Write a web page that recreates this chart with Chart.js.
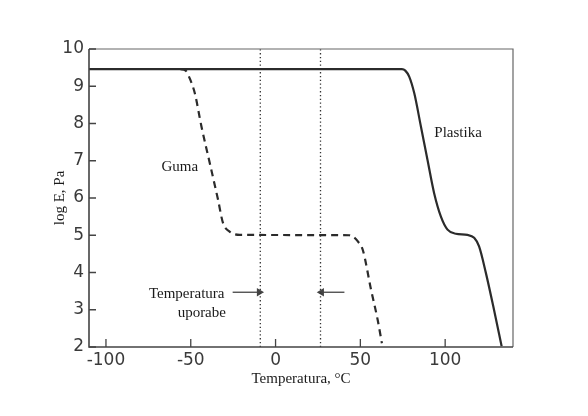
<!DOCTYPE html>
<html>
<head>
<meta charset="utf-8">
<script src="https://cdn.jsdelivr.net/npm/chart.js@4/dist/chart.umd.min.js"></script>
<style>
  html, body { margin: 0; padding: 0; background: #fff; }
  #wrap { width: 588px; height: 416px; }
</style>
</head>
<body>
<div id="wrap"><canvas id="myChart"></canvas></div>
<script>
// curves (temperature in C, log E in Pa)
const plastikaT = [-110, 74.5, 76.5, 78.8, 81.8, 85.7, 89.6, 93.5, 97.5, 101.4, 106.3, 113.1, 117.1, 120, 124, 128.8, 133.3];
const plastikaE = [9.46, 9.46, 9.42, 9.26, 8.81, 7.92, 7.02, 6.13, 5.5, 5.15, 5.04, 5.01, 4.93, 4.7, 3.99, 3.0, 2.02];
const gumaT = [-56, -53, -50.6, -47.6, -43.7, -38.8, -33.9, -31, -27.1, -21.2, 43.5, 46, 48.4, 51.4, 56.3, 60.2, 62.7];
const gumaE = [9.46, 9.42, 9.21, 8.81, 7.92, 6.94, 5.95, 5.33, 5.1, 5.01, 5.0, 4.95, 4.84, 4.61, 3.54, 2.73, 2.1];
const useT = [-9, 26.5];          // dotted lines, temperatura uporabe
const arrowE = 3.47;
const arrowFrom = [-25.3, 40.6];
const xTicks = [-100, -50, 0, 50, 100];
const yTicks = [2, 3, 4, 5, 6, 7, 8, 9, 10];

const ink = '#2b2b2b';
const pts = (xs, ys) => xs.map((x, i) => ({x: x, y: ys[i]}));

const notes = [
  {x: -56.5, y: 6.84, text: 'Guma', align: 'center'},
  {x: 107.6, y: 7.75, text: 'Plastika', align: 'center'},
  {x: -52.4, y: 3.43, text: 'Temperatura', align: 'center'},
  {x: -43.5, y: 2.92, text: 'uporabe', align: 'center'}
];

// box frame, inside ticks and the text notes
const extras = {
  id: 'extras',
  afterDatasetsDraw(chart) {
    const c = chart.ctx, a = chart.chartArea;
    const xs = chart.scales.x, ys = chart.scales.y;
    c.save();
    c.strokeStyle = '#666';
    c.lineWidth = 1.2;
    c.beginPath();
    c.moveTo(a.left, a.top); c.lineTo(a.right, a.top); c.lineTo(a.right, a.bottom);
    c.stroke();
    c.strokeStyle = '#444';
    c.lineWidth = 1.6;
    c.beginPath();
    c.moveTo(a.left, a.top); c.lineTo(a.left, a.bottom); c.lineTo(a.right, a.bottom);
    c.stroke();
    c.lineWidth = 1.3;
    c.beginPath();
    yTicks.forEach(v => {
      const y = ys.getPixelForValue(v);
      c.moveTo(a.left, y); c.lineTo(a.left + 7, y);
    });
    xTicks.forEach(v => {
      const x = xs.getPixelForValue(v);
      c.moveTo(x, a.bottom); c.lineTo(x, a.bottom - 8);
    });
    c.stroke();
    c.fillStyle = '#1a1a1a';
    c.font = '15px "Liberation Serif"';
    c.textBaseline = 'middle';
    notes.forEach(n => {
      c.textAlign = n.align;
      c.fillText(n.text, xs.getPixelForValue(n.x), ys.getPixelForValue(n.y));
    });
    c.restore();
  }
};

const datasets = [
  {
    label: 'Plastika',
    data: pts(plastikaT, plastikaE),
    borderColor: ink, borderWidth: 2.2,
    pointRadius: 0, cubicInterpolationMode: 'monotone'
  },
  {
    label: 'Guma',
    data: pts(gumaT, gumaE),
    borderColor: ink, borderWidth: 2.2, borderDash: [7, 5],
    pointRadius: 0, cubicInterpolationMode: 'monotone'
  }
];
useT.forEach(t => datasets.push({
  data: [{x: t, y: 2}, {x: t, y: 10}],
  borderColor: '#333', borderWidth: 1.3, borderDash: [1.3, 2.5], pointRadius: 0
}));
arrowFrom.forEach((f, i) => datasets.push({
  data: [{x: f, y: arrowE}, {x: useT[i] + (i === 0 ? -0.6 : 0.6), y: arrowE}],
  borderColor: '#444', backgroundColor: '#444', borderWidth: 1.3,
  pointStyle: 'triangle', pointRadius: [0, 3.5],
  rotation: i === 0 ? 90 : -90
}));

const config = {
  type: 'line',
  data: { datasets: datasets },
  options: {
    responsive: false,
    animation: false,
    layout: { padding: { left: 0, right: 75, top: 49, bottom: 0 } },
    plugins: { legend: { display: false }, tooltip: { enabled: false } },
    scales: {
      x: {
        type: 'linear', min: -110, max: 140,
        afterBuildTicks: s => { s.ticks = xTicks.map(v => ({value: v})); },
        afterFit: s => { s.height = 69; },
        grid: { display: false, drawTicks: false },
        border: { display: false },
        ticks: { color: '#3a3a3a', padding: 3, font: { family: 'DejaVu Sans', size: 17 } },
        title: {
          display: true, text: 'Temperatura, °C', color: '#1a1a1a',
          font: { family: 'Liberation Serif', size: 15 },
          padding: { top: 0, bottom: 28 }
        }
      },
      y: {
        min: 2, max: 10,
        afterBuildTicks: s => { s.ticks = yTicks.map(v => ({value: v})); },
        afterFit: s => { s.width = 89; },
        grid: { display: false, drawTicks: false },
        border: { display: false },
        ticks: { color: '#3a3a3a', padding: 5, font: { family: 'DejaVu Sans', size: 17 } },
        title: {
          display: true, text: 'log E, Pa', color: '#1a1a1a',
          font: { family: 'Liberation Serif', size: 15 },
          padding: { top: 51, bottom: 0 }
        }
      }
    }
  },
  plugins: [extras]
};

const cv = document.getElementById('myChart');
cv.width = 588; cv.height = 416;
let chart = new Chart(cv.getContext('2d'), config);
</script>
</body>
</html>
